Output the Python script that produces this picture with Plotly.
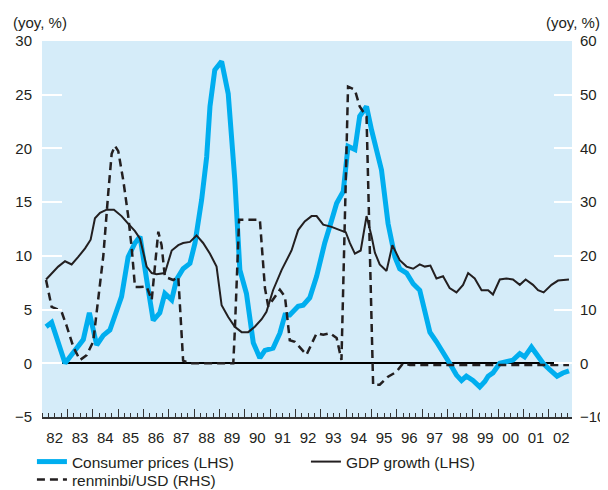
import plotly.graph_objects as go

# ---- data (fractional years, % yoy) ----
year_labels = ["82", "83", "84", "85", "86", "87", "88", "89", "90", "91", "92",
               "93", "94", "95", "96", "97", "98", "99", "00", "01", "02"]
year_starts = list(range(1982, 2003))
label_pos = [y + 0.5 for y in year_starts]

cpi_x = [1982.16, 1982.38, 1982.91, 1983.23, 1983.63, 1983.87, 1984.16, 1984.42, 1984.68,
         1985.14, 1985.40, 1985.67, 1985.87, 1986.13, 1986.39, 1986.65, 1986.85, 1987.12,
         1987.31, 1987.57, 1987.84, 1988.04, 1988.30, 1988.50, 1988.63, 1988.82, 1989.09,
         1989.35, 1989.61, 1989.81, 1990.07, 1990.34, 1990.60, 1990.80, 1991.12, 1991.39,
         1991.59, 1991.78, 1992.11, 1992.31, 1992.57, 1992.84, 1993.16, 1993.43, 1993.63,
         1993.89, 1994.08, 1994.35, 1994.54, 1994.81, 1995.01, 1995.40, 1995.66, 1995.93,
         1996.12, 1996.39, 1996.65, 1996.91, 1997.11, 1997.31, 1997.57, 1997.83, 1998.09,
         1998.36, 1998.56, 1998.75, 1999.01, 1999.28, 1999.48, 1999.61, 1999.80, 2000.07,
         2000.33, 2000.59, 2000.86, 2001.05, 2001.32, 2001.51, 2001.78, 2002.04, 2002.33,
         2002.56, 2002.80]
cpi_y = [3.4, 3.8, 0.0, 0.9, 2.2, 4.7, 1.7, 2.6, 3.1,
         6.2, 9.9, 11.2, 11.8, 7.8, 4.0, 4.7, 6.5, 5.9,
         7.8, 8.8, 9.3, 11.2, 15.2, 19.2, 23.9, 27.3, 28.1,
         25.1, 17.1, 8.7, 6.5, 1.9, 0.5, 1.2, 1.4, 2.8,
         4.5, 4.5, 5.3, 5.4, 6.1, 8.1, 11.2, 13.3, 14.9,
         16.0, 20.2, 19.9, 23.0, 23.9, 21.7, 18.0, 13.0, 9.9,
         8.8, 8.4, 7.4, 6.8, 5.0, 2.9, 2.0, 0.9, 0.0,
         -1.1, -1.6, -1.2, -1.6, -2.2, -1.7, -1.2, -0.9, 0.0,
         0.1, 0.3, 0.9, 0.6, 1.5, 0.9, 0.0, -0.6, -1.2,
         -0.9, -0.7]

gdp_x = [1982.16, 1982.38, 1982.64, 1982.91, 1983.17, 1983.43, 1983.70, 1983.92, 1984.09,
         1984.29, 1984.55, 1984.84, 1985.14, 1985.40, 1985.67, 1985.87, 1986.13, 1986.33,
         1986.52, 1986.85, 1987.12, 1987.38, 1987.57, 1987.84, 1988.10, 1988.36, 1988.63,
         1988.89, 1989.09, 1989.35, 1989.61, 1989.88, 1990.14, 1990.40, 1990.67, 1990.86,
         1991.12, 1991.46, 1991.85, 1992.11, 1992.37, 1992.64, 1992.84, 1993.10, 1993.43,
         1993.76, 1993.99, 1994.15, 1994.35, 1994.58, 1994.81, 1995.01, 1995.14, 1995.33,
         1995.60, 1995.83, 1996.12, 1996.39, 1996.65, 1996.91, 1997.11, 1997.33, 1997.57,
         1997.83, 1998.09, 1998.36, 1998.62, 1998.82, 1999.08, 1999.35, 1999.61, 1999.80,
         2000.07, 2000.33, 2000.59, 2000.86, 2001.09, 2001.38, 2001.58, 2001.80, 2002.11,
         2002.37, 2002.63, 2002.80]
gdp_y = [7.8, 8.4, 9.0, 9.5, 9.2, 9.9, 10.7, 11.5, 13.5,
         14.0, 14.3, 14.3, 13.7, 13.0, 12.3, 11.6, 9.0, 8.4,
         8.3, 8.4, 10.5, 11.0, 11.2, 11.3, 11.9, 11.2, 10.2,
         9.0, 5.4, 4.3, 3.4, 2.9, 2.9, 3.4, 4.1, 4.8,
         6.8, 8.7, 10.5, 12.4, 13.2, 13.7, 13.7, 12.9, 12.7,
         12.4, 12.2, 11.2, 10.2, 10.5, 13.7, 11.8, 10.3, 9.2,
         8.6, 11.0, 9.6, 9.0, 8.8, 9.2, 9.0, 9.1, 7.9,
         8.1, 7.0, 6.6, 7.3, 8.4, 7.9, 6.8, 6.8, 6.4,
         7.8, 7.9, 7.8, 7.3, 7.8, 7.3, 6.8, 6.6, 7.3,
         7.7, 7.8, 7.8]

rmb_x = [1982.16, 1982.38, 1982.64, 1982.78, 1982.97, 1983.24, 1983.50, 1983.76, 1984.02,
         1984.22, 1984.42, 1984.62, 1984.75, 1984.88, 1985.01, 1985.21, 1985.40, 1985.54,
         1985.67, 1985.87, 1986.13, 1986.33, 1986.59, 1986.72, 1986.85, 1987.18, 1987.38,
         1987.57, 1987.84, 1988.63, 1989.55, 1989.61, 1989.78, 1990.60, 1990.68, 1990.80,
         1990.93, 1991.19, 1991.39, 1991.59, 1991.78, 1991.98, 1992.44, 1992.84, 1993.10,
         1993.36, 1993.63, 1993.82, 1994.08, 1994.35, 1994.54, 1994.81, 1995.07, 1995.33,
         1995.66, 1995.99, 1996.25, 1996.52, 1997.70, 1998.88, 2000.07, 2001.25, 2002.80]
rmb_y = [15.5, 10.5, 10.0, 9.5, 7.0, 3.0, 0.6, 1.5, 4.0,
         11.5, 20.0, 32.0, 39.0, 40.5, 39.5, 34.0, 27.5, 21.5,
         14.2, 14.2, 14.3, 11.8, 24.5, 22.0, 16.1, 15.5, 16.1,
         0.5, 0.0, 0.0, 0.0, 6.0, 26.7, 26.7, 22.0, 14.0,
         10.6, 12.4, 13.7, 12.4, 4.3, 4.0, 1.6, 5.6, 5.3,
         5.6, 4.7, 0.6, 51.5, 50.9, 47.8, 45.9, -4.0, -4.0,
         -2.5, -1.6, 0.0, -0.3, -0.3, -0.3, -0.3, -0.3, -0.3]

BLUE = "#00AEEF"
BG = "#D5ECF9"
TXT = "#231F20"
FONT = "Liberation Sans, Arial, sans-serif"

fig = go.Figure()
fig.add_trace(go.Scatter(x=cpi_x, y=cpi_y, mode="lines", name="Consumer prices (LHS)",
                         line=dict(color=BLUE, width=5), legend="legend"))
fig.add_trace(go.Scatter(x=gdp_x, y=gdp_y, mode="lines", name="GDP growth (LHS)",
                         line=dict(color=TXT, width=2), legend="legend"))
fig.add_trace(go.Scatter(x=rmb_x, y=rmb_y, mode="lines", name="renminbi/USD (RHS)",
                         xaxis="x2", yaxis="y2", legend="legend2",
                         line=dict(color=TXT, width=2.5, dash="8px,5px")))

xr = [1982, 2002.92]
legend_common = dict(orientation="h", x=-0.019, xanchor="left", yanchor="top",
                     entrywidth=229, entrywidthmode="pixels", traceorder="normal",
                     font=dict(size=15.5, color=TXT), bgcolor="rgba(0,0,0,0)",
                     itemwidth=30)
fig.update_layout(
    width=600, height=482,
    margin=dict(l=34, r=36, t=33, b=73, autoexpand=False),
    paper_bgcolor="white", plot_bgcolor=BG,
    font=dict(family=FONT, size=15, color=TXT),
    showlegend=True,
    legend=dict(y=-0.0745, **legend_common),
    legend2=dict(y=-0.1223, **legend_common),
    xaxis=dict(range=xr, tickmode="array", tickvals=label_pos, ticktext=year_labels,
               ticks="", showgrid=False, zeroline=False, showline=True,
               linecolor="#333333", linewidth=1.5, ticklabelstandoff=6,
               minor=dict(tickmode="linear", tick0=1982, dtick=0.25, ticks="inside",
                          ticklen=4, tickcolor="#333333", tickwidth=1, showgrid=False),
               tickfont=dict(size=15, color=TXT)),
    xaxis2=dict(range=xr, overlaying="x", anchor="y2", side="bottom", tickmode="array",
                tickvals=year_starts, ticks="inside", ticklen=8, tickcolor="#333333",
                tickwidth=1, showticklabels=False, showgrid=False, zeroline=False,
                showline=False),
    yaxis=dict(range=[-5, 30], tickmode="linear", tick0=-5, dtick=5, ticks="inside",
               ticklen=20, tickcolor="white", tickwidth=2, showgrid=False,
               zeroline=True, zerolinecolor="black", zerolinewidth=2, showline=False,
               ticklabelstandoff=9, tickfont=dict(size=15, color=TXT)),
    yaxis2=dict(range=[-10, 60], overlaying="y", side="right", anchor="x2",
                tickmode="linear", tick0=-10, dtick=10, ticks="inside", ticklen=18,
                tickcolor="white", tickwidth=2, showgrid=False, zeroline=False,
                showline=False, ticklabelstandoff=7, tickfont=dict(size=15, color=TXT)),
    annotations=[
        dict(text="(yoy, %)", xref="paper", yref="paper", x=-0.004, y=1.048,
             xanchor="center", yanchor="middle", showarrow=False,
             font=dict(size=15, color=TXT)),
        dict(text="(yoy, %)", xref="paper", yref="paper", x=1.002, y=1.048,
             xanchor="center", yanchor="middle", showarrow=False,
             font=dict(size=15, color=TXT)),
    ],
)

fig.write_html("out.html")
